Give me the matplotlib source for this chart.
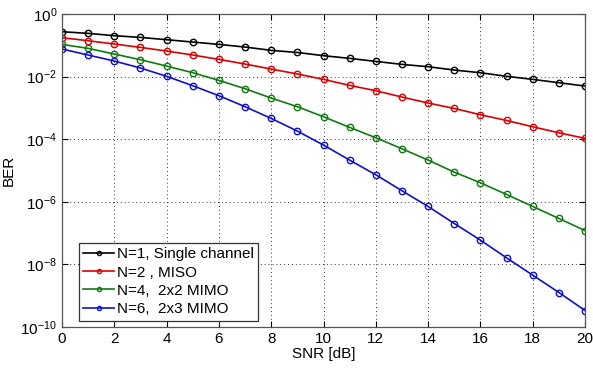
import numpy as np
import matplotlib as mpl
import matplotlib.pyplot as plt

mpl.rcParams.update({
    "font.family": ["Liberation Sans", "DejaVu Sans"],
    "mathtext.fontset": "custom",
    "mathtext.rm": "Liberation Sans",
    "mathtext.it": "Liberation Sans:italic",
    "font.size": 11,
})

snr_db = list(range(0, 21))

ber_n1 = [0.272, 0.241, 0.203, 0.179, 0.151, 0.127, 0.107, 0.088, 0.069, 0.059,
          0.0466, 0.0382, 0.0306, 0.0246, 0.0207, 0.0162, 0.0133, 0.0102,
          0.00815, 0.00637, 0.00499]
ber_n2 = [0.175, 0.140, 0.110, 0.0859, 0.0656, 0.0489, 0.0355, 0.0252, 0.0174,
          0.0121, 0.00814, 0.00524, 0.00353, 0.00222, 0.00143, 0.00096,
          0.000603, 0.000397, 0.000249, 0.000160, 0.000106]
ber_n4 = [0.107, 0.0798, 0.0526, 0.0346, 0.0217, 0.0133, 0.00757, 0.00410,
          0.00206, 0.00109, 0.000521, 0.000238, 0.000111, 4.94e-5, 2.14e-5,
          8.86e-6, 4.04e-6, 1.71e-6, 7.07e-7, 2.92e-7, 1.20e-7]
ber_n6 = [0.0760, 0.0489, 0.0314, 0.0188, 0.0102, 0.00511, 0.00245, 0.00109,
          0.000461, 0.000181, 6.47e-5, 2.14e-5, 7.28e-6, 2.24e-6, 7.07e-7,
          2.02e-7, 5.93e-8, 1.61e-8, 4.51e-9, 1.26e-9, 3.34e-10]

series = [
    (ber_n1, "#000000", "N=1, Single channel"),
    (ber_n2, "#d80000", "N=2 , MISO"),
    (ber_n4, "#107a10", "N=4,  2x2 MIMO"),
    (ber_n6, "#1010c0", "N=6,  2x3 MIMO"),
]

x_ticks = list(range(0, 21, 2))
y_ticks = [1e0, 1e-2, 1e-4, 1e-6, 1e-8, 1e-10]

fig = plt.figure(figsize=(5.93, 3.69), dpi=100)
ax = fig.add_axes([0.1046, 0.114, 0.882, 0.848])

for ber, color, label in series:
    ax.semilogy(snr_db, ber, color=color, lw=1.2, marker="o", ms=4.6,
                mfc="none", mec=color, mew=1.0, label=label)

ax.set_xlim(0, 20)
ax.set_ylim(1e-10, 1e0)
ax.set_xticks(x_ticks)
ax.set_yticks(y_ticks)
ax.yaxis.set_minor_locator(mpl.ticker.NullLocator())
ax.grid(True, which="major", color="k", ls=(0, (1, 3)), lw=0.7, alpha=0.8)
ax.tick_params(direction="in", length=4, labelsize=11, top=True, right=True)
for spine in ax.spines.values():
    spine.set_color("#555555")
    spine.set_linewidth(0.9)

ax.set_xlabel("SNR [dB]", fontsize=11, labelpad=1)
ax.set_ylabel("BER", fontsize=11, labelpad=3)

leg = ax.legend(loc="lower left", bbox_to_anchor=(0.032, 0.02), fontsize=11,
                markerscale=0.65, handlelength=2.0, handletextpad=0.2,
                borderpad=0.3, labelspacing=0.28, fancybox=False,
                framealpha=1, edgecolor="#333333", borderaxespad=0)
leg.get_frame().set_linewidth(0.9)

fig.savefig("out.png", dpi=100)
